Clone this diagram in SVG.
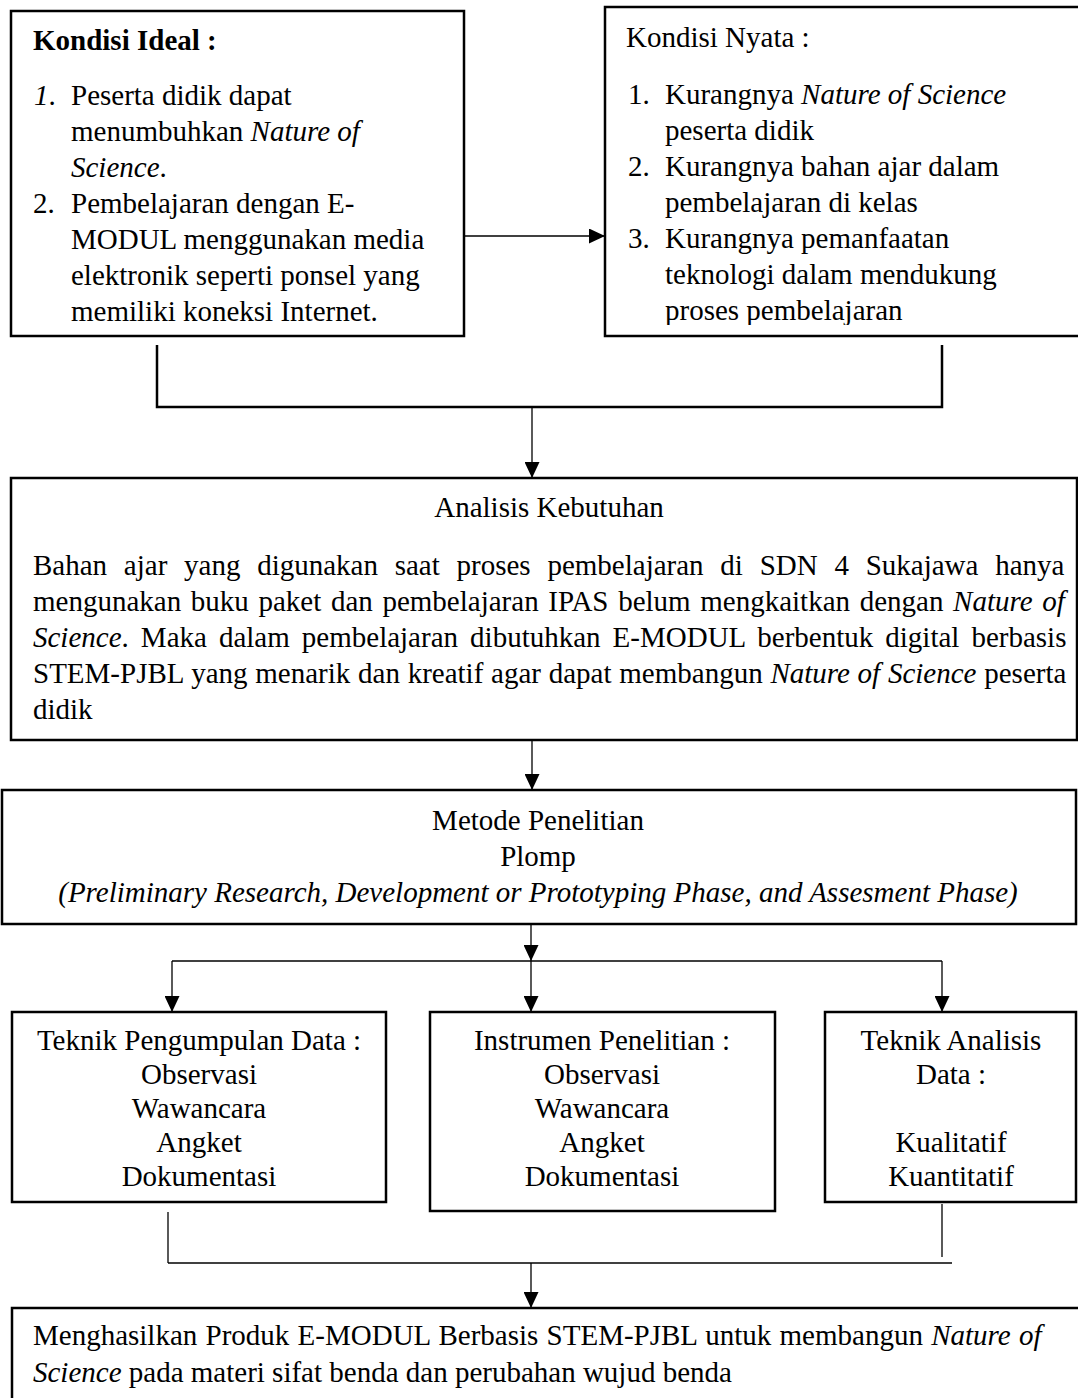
<svg xmlns="http://www.w3.org/2000/svg" width="1078" height="1398" viewBox="0 0 1078 1398">
<style>
text{font-family:"Liberation Serif","Times New Roman",serif;font-size:29px;fill:#000}
.b{font-weight:bold}
.i{font-style:italic}
.c{text-anchor:middle}
.box{fill:#fff;stroke:#000;stroke-width:2.5}
.thin{fill:none;stroke:#000;stroke-width:1.3}
.thick{fill:none;stroke:#000;stroke-width:2.5}
</style>
<defs>
<marker id="ah" markerUnits="userSpaceOnUse" markerWidth="16" markerHeight="15" refX="16" refY="7.5" orient="auto">
<path d="M0,0 L16,7.5 L0,15 z" fill="#000"/>
</marker>
<clipPath id="clip2"><rect x="600" y="0" width="480" height="325"/></clipPath>
</defs>

<g id="connectors">
<line class="thin" x1="464" y1="236" x2="605" y2="236" marker-end="url(#ah)"/>
<polyline class="thick" points="157,345 157,407 942,407 942,345"/>
<line class="thin" x1="532" y1="407" x2="532" y2="478" marker-end="url(#ah)"/>
<line class="thin" x1="532" y1="740" x2="532" y2="790" marker-end="url(#ah)"/>
<line class="thin" x1="531" y1="924" x2="531" y2="961" marker-end="url(#ah)"/>
<line class="thin" x1="172" y1="961" x2="942" y2="961"/>
<line class="thin" x1="172" y1="961" x2="172" y2="1012" marker-end="url(#ah)"/>
<line class="thin" x1="531" y1="961" x2="531" y2="1012" marker-end="url(#ah)"/>
<line class="thin" x1="942" y1="961" x2="942" y2="1012" marker-end="url(#ah)"/>
<line class="thin" x1="168" y1="1212" x2="168" y2="1263"/>
<line class="thin" x1="942" y1="1204" x2="942" y2="1257"/>
<line class="thin" x1="168" y1="1263" x2="952" y2="1263"/>
<line class="thin" x1="531" y1="1263" x2="531" y2="1308" marker-end="url(#ah)"/>
</g>

<g id="kondisi-ideal">
<rect class="box" x="11" y="11" width="453" height="325"/>
<text class="b" x="33" y="50">Kondisi Ideal :</text>
<text x="34" y="105"><tspan class="i">1</tspan>.</text>
<text x="71" y="105">Peserta didik dapat</text>
<text x="71" y="141">menumbuhkan <tspan class="i">Nature of</tspan></text>
<text x="71" y="177"><tspan class="i">Science</tspan>.</text>
<text x="33" y="213">2.</text>
<text x="71" y="213">Pembelajaran dengan E-</text>
<text x="71" y="249">MODUL menggunakan media</text>
<text x="71" y="285">elektronik seperti ponsel yang</text>
<text x="71" y="321">memiliki koneksi Internet.</text>
</g>

<g id="kondisi-nyata">
<rect class="box" x="605" y="7" width="476" height="329"/>
<text x="626" y="47">Kondisi Nyata :</text>
<text x="628" y="104">1.</text>
<text x="665" y="104">Kurangnya <tspan class="i">Nature of Science</tspan></text>
<text x="665" y="140">peserta didik</text>
<text x="628" y="176">2.</text>
<text x="665" y="176">Kurangnya bahan ajar dalam</text>
<text x="665" y="212">pembelajaran di kelas</text>
<text x="628" y="248">3.</text>
<text x="665" y="248">Kurangnya pemanfaatan</text>
<text x="665" y="284">teknologi dalam mendukung</text>
<text x="665" y="320" clip-path="url(#clip2)">proses pembelajaran</text>
</g>

<g id="analisis-kebutuhan">
<rect class="box" x="11" y="478" width="1066" height="262"/>
<text class="c" x="549" y="517">Analisis Kebutuhan</text>
<text x="33" y="575" word-spacing="9.5">Bahan ajar yang digunakan saat proses pembelajaran di SDN 4 Sukajawa hanya</text>
<text x="33" y="611" word-spacing="2.4">mengunakan buku paket dan pembelajaran IPAS belum mengkaitkan dengan <tspan class="i">Nature of</tspan></text>
<text x="33" y="647" word-spacing="4.8"><tspan class="i">Science</tspan>. Maka dalam pembelajaran dibutuhkan E-MODUL berbentuk digital berbasis</text>
<text x="33" y="683" word-spacing="0.5">STEM-PJBL yang menarik dan kreatif agar dapat membangun <tspan class="i">Nature of Science</tspan> peserta</text>
<text x="33" y="719">didik</text>
</g>

<g id="metode-penelitian">
<rect class="box" x="2" y="790" width="1074" height="134"/>
<text class="c" x="538" y="830">Metode Penelitian</text>
<text class="c" x="538" y="866">Plomp</text>
<text class="c i" x="538" y="902">(Preliminary Research, Development or Prototyping Phase, and Assesment Phase)</text>
</g>

<g id="teknik-pengumpulan-data">
<rect class="box" x="12" y="1012" width="374" height="190"/>
<text class="c" x="199" y="1050">Teknik Pengumpulan Data :</text>
<text class="c" x="199" y="1084">Observasi</text>
<text class="c" x="199" y="1118">Wawancara</text>
<text class="c" x="199" y="1152">Angket</text>
<text class="c" x="199" y="1186">Dokumentasi</text>
</g>

<g id="instrumen-penelitian">
<rect class="box" x="430" y="1012" width="345" height="199"/>
<text class="c" x="602" y="1050">Instrumen Penelitian :</text>
<text class="c" x="602" y="1084">Observasi</text>
<text class="c" x="602" y="1118">Wawancara</text>
<text class="c" x="602" y="1152">Angket</text>
<text class="c" x="602" y="1186">Dokumentasi</text>
</g>

<g id="teknik-analisis-data">
<rect class="box" x="825" y="1012" width="251" height="190"/>
<text class="c" x="951" y="1050">Teknik Analisis</text>
<text class="c" x="951" y="1084">Data :</text>
<text class="c" x="951" y="1152">Kualitatif</text>
<text class="c" x="951" y="1186">Kuantitatif</text>
</g>

<g id="hasil">
<rect class="box" x="12" y="1308" width="1070" height="100"/>
<text x="33" y="1345" word-spacing="1">Menghasilkan Produk E-MODUL Berbasis STEM-PJBL untuk membangun <tspan class="i">Nature of</tspan></text>
<text x="33" y="1382"><tspan class="i">Science</tspan> pada materi sifat benda dan perubahan wujud benda</text>
</g>
</svg>
